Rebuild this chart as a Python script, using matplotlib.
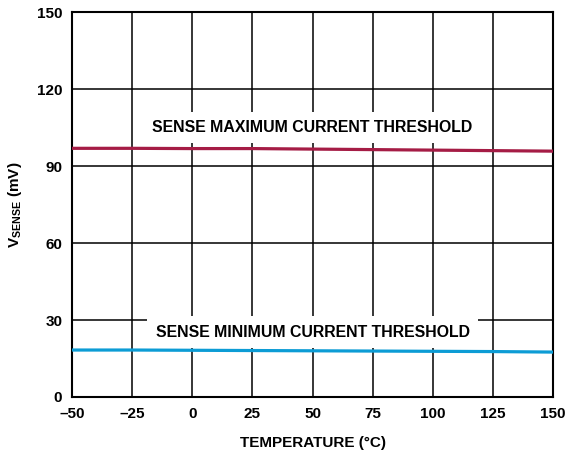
import numpy as np
import matplotlib.pyplot as plt

plt.rcParams['font.family'] = ['Liberation Sans', 'DejaVu Sans']
plt.rcParams['font.weight'] = 'bold'
plt.rcParams['mathtext.fontset'] = 'custom'
plt.rcParams['mathtext.rm'] = 'Liberation Sans:bold'
plt.rcParams['mathtext.bf'] = 'Liberation Sans:bold'

# data
temp = [-50, -25, 0, 25, 50, 75, 100, 125, 150]
v_max = [96.9, 96.9, 96.8, 96.8, 96.6, 96.4, 96.2, 96.0, 95.8]
v_min = [18.3, 18.3, 18.2, 18.1, 18.0, 17.9, 17.8, 17.7, 17.5]
xticks = [-50, -25, 0, 25, 50, 75, 100, 125, 150]
xtick_labels = ['\u201350', '\u201325', '0', '25', '50', '75', '100', '125', '150']
yticks = [0, 30, 60, 90, 120, 150]

fig = plt.figure(figsize=(5.69, 4.55), dpi=100)
ax = fig.add_axes([0.1265, 0.1275, 0.8455, 0.846])

ax.plot(temp, v_max, color='#A51C45', lw=2.3, zorder=3)
ax.plot(temp, v_min, color='#0C9CD5', lw=2.3, zorder=3)

ax.set_xlim(-50, 150)
ax.set_ylim(0, 150)
ax.set_xticks(xticks)
ax.set_xticklabels(xtick_labels)
ax.set_yticks(yticks)
ax.grid(True, color='black', lw=1.1)
ax.set_axisbelow(True)
ax.tick_params(length=0, labelsize=11, pad=7)
for s in ax.spines.values():
    s.set_linewidth(1.5)

ax.text(50, 105, 'SENSE MAXIMUM CURRENT THRESHOLD', ha='center', va='center',
        fontsize=11.4, fontweight='bold', zorder=4,
        bbox=dict(facecolor='white', edgecolor='none', pad=6))
ax.text(50, 25.3, 'SENSE MINIMUM CURRENT THRESHOLD', ha='center', va='center',
        fontsize=11.4, fontweight='bold', zorder=4,
        bbox=dict(facecolor='white', edgecolor='none', pad=6))

ax.set_xlabel('TEMPERATURE (\u00b0C)', fontsize=11, fontweight='bold', labelpad=11)
ax.set_ylabel(r'V$_{\mathrm{SENSE}}$ (mV)', fontsize=11, fontweight='bold', labelpad=9)

fig.savefig('out.png', dpi=100)
